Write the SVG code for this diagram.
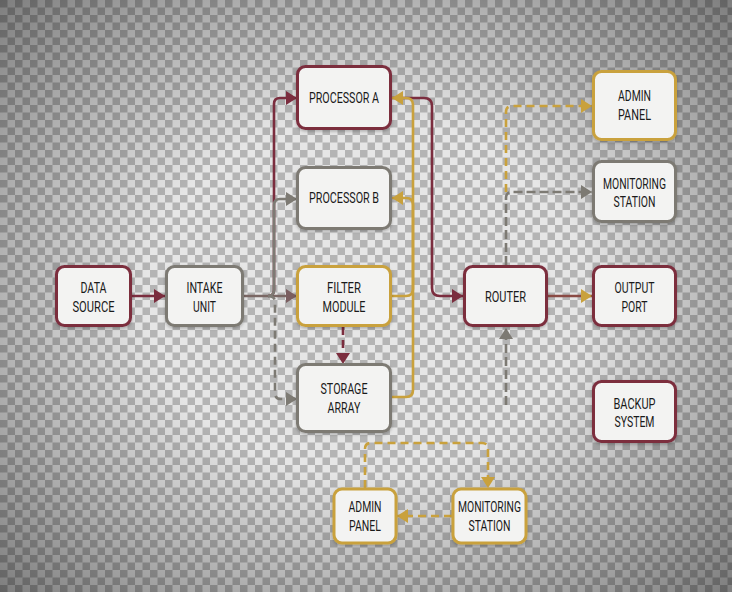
<svg xmlns="http://www.w3.org/2000/svg" width="732" height="592" viewBox="0 0 732 592">
<defs>
<pattern id="chk" width="15" height="15" patternUnits="userSpaceOnUse">
<rect width="15" height="15" fill="#e6e6e6"/>
<rect width="7.5" height="7.5" fill="#b4b4b4"/>
<rect x="7.5" y="7.5" width="7.5" height="7.5" fill="#b4b4b4"/>
</pattern>
<radialGradient id="vig" cx="50%" cy="50%" r="75%">
<stop offset="0.4" stop-color="#000" stop-opacity="0"/>
<stop offset="1" stop-color="#000" stop-opacity="0.5"/>
</radialGradient>
<filter id="sh" x="-20%" y="-20%" width="140%" height="150%">
<feDropShadow dx="0" dy="1.5" stdDeviation="1.5" flood-color="#000" flood-opacity="0.25"/>
</filter>
<marker id="aM" markerUnits="userSpaceOnUse" markerWidth="11" markerHeight="14" refX="11" refY="7" orient="auto"><path d="M0,0 L11,7 L0,14 z" fill="#7b2d3e"/></marker>
<marker id="aG" markerUnits="userSpaceOnUse" markerWidth="11" markerHeight="14" refX="11" refY="7" orient="auto"><path d="M0,0 L11,7 L0,14 z" fill="#7d7a73"/></marker>
<marker id="aB" markerUnits="userSpaceOnUse" markerWidth="11" markerHeight="14" refX="11" refY="7" orient="auto"><path d="M0,0 L11,7 L0,14 z" fill="#7a5e60"/></marker>
<marker id="aY" markerUnits="userSpaceOnUse" markerWidth="11" markerHeight="14" refX="11" refY="7" orient="auto"><path d="M0,0 L11,7 L0,14 z" fill="#c9a13c"/></marker>
</defs>
<style>
.n{fill:#f3f3f2;stroke-width:3;filter:url(#sh)}
.m{stroke:#7b2d3e}.g{stroke:#7d7a73}.y{stroke:#c9a13c}
.t{font-family:Roboto,"Liberation Sans",sans-serif;font-weight:400;font-size:14.5px;fill:#1a1a1a;text-anchor:middle}
.e{fill:none;stroke-width:2.6}
.d{stroke-dasharray:8 5}
</style>
<rect width="732" height="592" fill="url(#chk)"/>
<rect width="732" height="592" fill="url(#vig)"/>

<g id="connectors">
<path class="e" d="M132,296 H165" stroke="#7b2d3e" marker-end="url(#aM)"/>
<path class="e" d="M244,296 H297" stroke="#7a6764" marker-end="url(#aB)"/>
<path class="e" d="M268,296 Q274,296 274,290 V104 Q274,98 280,98 H297" stroke="#7b2d3e" marker-end="url(#aM)"/>
<path class="e" d="M268,296 Q274,296 274,290 V205 Q274,199 280,199 H297" stroke="#7d7a73" marker-end="url(#aG)"/>
<path class="e d" d="M268,296 Q275,296 275,302 V393 Q275,399 281,399 H297" stroke="#7d7a73" marker-end="url(#aG)"/>
<path class="e d" d="M343,327 V364" stroke="#7b2d3e" marker-end="url(#aM)"/>
<path class="e" d="M392,98 H424 Q432,98 432,106 V288 Q432,296 440,296 H463" stroke="#7b2d3e" marker-end="url(#aM)"/>
<path class="e" d="M392,397 H406 Q413,397 413,390 V205 Q413,198 406,198 H392" stroke="#c9a13c" marker-end="url(#aY)"/>
<path class="e" d="M392,296 H406 Q413,296 413,289 V105 Q413,98 406,98 H392" stroke="#c9a13c" marker-end="url(#aY)"/>
<path class="e" d="M548,296 H592" stroke="#8a4a44" marker-end="url(#aY)"/>
<path class="e d" d="M506,192 V112 Q506,106 512,106 H592" stroke="#c9a13c" marker-end="url(#aY)"/>
<path class="e" d="M506,265 V198 Q506,192 512,192 H592" stroke="#7d7a73" stroke-width="2.2" stroke-dasharray="9 4" marker-end="url(#aG)"/>
<path class="e" d="M506,405 V328" stroke="#7d7a73" stroke-width="2.2" stroke-dasharray="9 4" marker-end="url(#aG)"/>
<path class="e d" d="M365,488 V449 Q365,443 371,443 H482 Q488,443 488,449 V488" stroke="#c9a13c" marker-end="url(#aY)"/>
<path class="e d" d="M452,516 H397" stroke="#c9a13c" marker-end="url(#aY)"/>
</g>

<g id="data-source"><rect class="n m" x="56.5" y="266.5" width="74" height="59" rx="8"/>
<text class="t" x="93.5" y="293" textLength="26" lengthAdjust="spacingAndGlyphs">DATA</text>
<text class="t" x="93.5" y="312" textLength="42" lengthAdjust="spacingAndGlyphs">SOURCE</text></g>

<g id="intake-unit"><rect class="n g" x="166.5" y="266.5" width="76" height="59" rx="8"/>
<text class="t" x="204.5" y="293" textLength="36" lengthAdjust="spacingAndGlyphs">INTAKE</text>
<text class="t" x="204.5" y="312" textLength="23" lengthAdjust="spacingAndGlyphs">UNIT</text></g>

<g id="processor-a"><rect class="n m" x="297.5" y="66.5" width="93" height="62" rx="8"/>
<text class="t" x="344" y="103" textLength="70" lengthAdjust="spacingAndGlyphs">PROCESSOR A</text></g>

<g id="processor-b"><rect class="n g" x="297.5" y="167.5" width="93" height="61" rx="8"/>
<text class="t" x="344" y="203" textLength="70" lengthAdjust="spacingAndGlyphs">PROCESSOR B</text></g>

<g id="filter-module"><rect class="n y" x="297.5" y="266.5" width="93" height="59" rx="8"/>
<text class="t" x="344" y="293" textLength="34" lengthAdjust="spacingAndGlyphs">FILTER</text>
<text class="t" x="344" y="311.5" textLength="43" lengthAdjust="spacingAndGlyphs">MODULE</text></g>

<g id="storage-array"><rect class="n g" x="297.5" y="364.5" width="93" height="67" rx="8"/>
<text class="t" x="344" y="393.5" textLength="47" lengthAdjust="spacingAndGlyphs">STORAGE</text>
<text class="t" x="344" y="413" textLength="33" lengthAdjust="spacingAndGlyphs">ARRAY</text></g>

<g id="router"><rect class="n m" x="464.5" y="266.5" width="82" height="59" rx="8"/>
<text class="t" x="505.5" y="302" textLength="41" lengthAdjust="spacingAndGlyphs">ROUTER</text></g>

<g id="admin-panel-top"><rect class="n y" x="593.5" y="71.5" width="82" height="68" rx="8"/>
<text class="t" x="634.5" y="101" textLength="33" lengthAdjust="spacingAndGlyphs">ADMIN</text>
<text class="t" x="634.5" y="120" textLength="33" lengthAdjust="spacingAndGlyphs">PANEL</text></g>

<g id="monitoring-station-top"><rect class="n g" x="593.5" y="161.5" width="82" height="60" rx="8"/>
<text class="t" x="634.5" y="188.5" textLength="63" lengthAdjust="spacingAndGlyphs">MONITORING</text>
<text class="t" x="634.5" y="207" textLength="42" lengthAdjust="spacingAndGlyphs">STATION</text></g>

<g id="output-port"><rect class="n m" x="593.5" y="266.5" width="82" height="59" rx="8"/>
<text class="t" x="634.5" y="293" textLength="40" lengthAdjust="spacingAndGlyphs">OUTPUT</text>
<text class="t" x="634.5" y="311.5" textLength="26" lengthAdjust="spacingAndGlyphs">PORT</text></g>

<g id="backup-system"><rect class="n m" x="593.5" y="381.5" width="82" height="60" rx="8"/>
<text class="t" x="634.5" y="408.5" textLength="42" lengthAdjust="spacingAndGlyphs">BACKUP</text>
<text class="t" x="634.5" y="427" textLength="40" lengthAdjust="spacingAndGlyphs">SYSTEM</text></g>

<g id="admin-panel-bottom"><rect class="n y" x="334" y="489" width="62" height="54" rx="8"/>
<text class="t" x="365" y="512" textLength="33" lengthAdjust="spacingAndGlyphs">ADMIN</text>
<text class="t" x="365" y="531" textLength="32" lengthAdjust="spacingAndGlyphs">PANEL</text></g>

<g id="monitoring-station-bottom"><rect class="n y" x="453" y="489" width="73" height="54" rx="8"/>
<text class="t" x="489.5" y="512" textLength="63" lengthAdjust="spacingAndGlyphs">MONITORING</text>
<text class="t" x="489.5" y="531" textLength="42" lengthAdjust="spacingAndGlyphs">STATION</text></g>
</svg>
